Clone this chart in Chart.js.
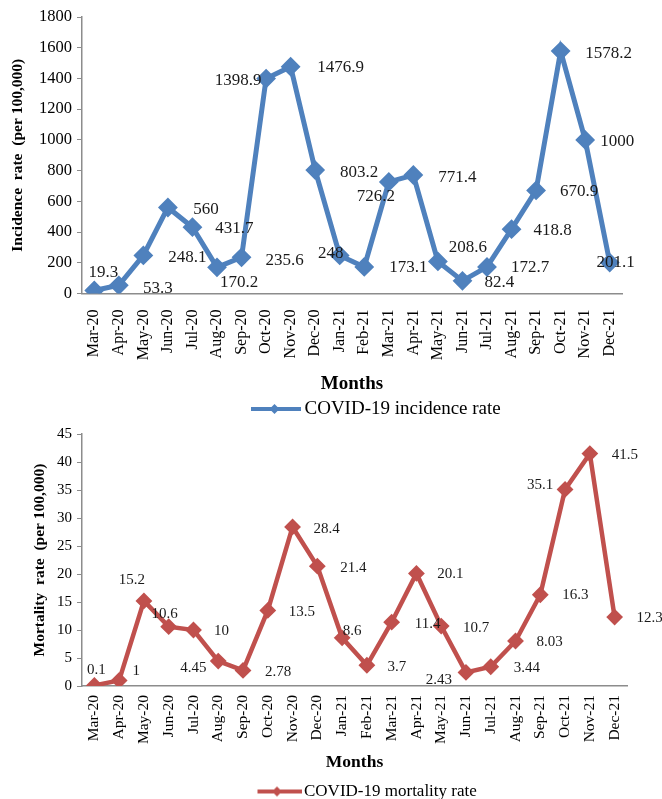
<!DOCTYPE html>
<html>
<head>
<meta charset="utf-8">
<script src="https://cdn.jsdelivr.net/npm/chart.js@4.4.1/dist/chart.umd.min.js"></script>
<style>
  body { margin: 0; background: #fff; }
  canvas { display: block; }
</style>
</head>
<body>
<canvas id="incChart" width="662" height="420"></canvas>
<canvas id="mortChart" width="662" height="379"></canvas>
<script>
// data
const months = ["Mar-20","Apr-20","May-20","Jun-20","Jul-20","Aug-20","Sep-20","Oct-20","Nov-20","Dec-20",
  "Jan-21","Feb-21","Mar-21","Apr-21","May-21","Jun-21","Jul-21","Aug-21","Sep-21","Oct-21","Nov-21","Dec-21"];
const incidence = [19.3, 53.3, 248.1, 560, 431.7, 170.2, 235.6, 1398.9, 1476.9, 803.2,
  248, 173.1, 726.2, 771.4, 208.6, 82.4, 172.7, 418.8, 670.9, 1578.2, 1000, 201.1];
const mortality = [0.1, 1, 15.2, 10.6, 10, 4.45, 2.78, 13.5, 28.4, 21.4,
  8.6, 3.7, 11.4, 20.1, 10.7, 2.43, 3.44, 8.03, 16.3, 35.1, 41.5, 12.3];
const incTicks = { max: 1800, step: 200 };
const mortTicks = { max: 45, step: 5 };

// where each value label sits relative to its point (px)
const incLabelOffsets = [[9,-18],[39,3],[44,2],[38,2],[42,1],[22,15],[43,3],[-28,2],[50,1],[44,2],
  [-9,-2],[44,1],[-13,15],[44,3],[30,-14],[37,2],[43,1],[41,1],[43,1],[48,2],[32,2],[6,0]];
const mortLabelOffsets = [[2,-15],[17,-9],[-12,-21],[-4,-13],[28,1],[-25,7],[35,2],[34,2],[34,2],[36,2],
  [10,-7],[30,2],[36,2],[34,1],[35,2],[-27,8],[36,1],[34,1],[35,0],[-25,-4],[35,1],[35,1]];

const SERIF = "'Liberation Serif', 'Times New Roman', serif";
const BLUE = "#4F81BD";
const RED = "#C0504D";
const AXIS = "#8c8c8c";

function legendMarker(color, w) {
  var c = document.createElement("canvas");
  c.width = w; c.height = 14;
  var g = c.getContext("2d");
  g.strokeStyle = color; g.fillStyle = color; g.lineWidth = 4;
  g.beginPath(); g.moveTo(0, 7); g.lineTo(w, 7); g.stroke();
  g.beginPath(); g.moveTo(w/2 - 5, 7); g.lineTo(w/2, 2); g.lineTo(w/2 + 5, 7); g.lineTo(w/2, 12); g.closePath(); g.fill();
  return c;
}

const pointLabels = {
  id: "pointLabels",
  afterDatasetsDraw(chart, args, opts) {
    var ctx = chart.ctx;
    var pts = chart.getDatasetMeta(0).data;
    var vals = chart.data.datasets[0].data;
    ctx.save();
    ctx.font = opts.size + "px " + SERIF;
    ctx.fillStyle = "#1a1a1a";
    ctx.textAlign = "center";
    ctx.textBaseline = "middle";
    pts.forEach(function(p, i) {
      var o = opts.offsets[i];
      ctx.fillText(String(vals[i]), p.x + o[0], p.y + o[1]);
    });
    ctx.restore();
  }
};

// the legend in the figure is not centred, move it
const legendShift = {
  id: "legendShift",
  afterLayout(chart, args, opts) {
    var lg = chart.legend;
    var w = lg.right - lg.left;
    lg.left = opts.x; lg.right = opts.x + w;
  }
};

function makeChart(id, cfg) {
  return new Chart(document.getElementById(id).getContext("2d"), {
    type: "line",
    data: {
      labels: months,
      datasets: [{
        label: cfg.label,
        data: cfg.data,
        borderColor: cfg.color,
        backgroundColor: cfg.color,
        borderWidth: cfg.lineWidth,
        pointStyle: "rectRot",
        pointRadius: cfg.pointRadius,
        pointBorderWidth: 2,
        pointBackgroundColor: cfg.color,
        pointBorderColor: cfg.color,
        tension: 0,
        fill: false
      }]
    },
    options: {
      responsive: false,
      animation: false,
      devicePixelRatio: 1,
      layout: { padding: { left: 0, top: cfg.padTop, right: cfg.padRight, bottom: cfg.padBottom } },
      scales: {
        x: {
          offset: true,
          grid: { display: true, drawOnChartArea: false, drawTicks: false, color: AXIS },
          border: { color: AXIS, width: 1.5 },
          ticks: { autoSkip: false, maxRotation: 90, minRotation: 90, padding: cfg.xPad, color: "#000",
                   font: { family: SERIF, size: cfg.xTickSize } },
          title: { display: true, text: "Months", color: "#000", padding: { top: 0, bottom: cfg.xTitlePad },
                   font: { family: SERIF, size: cfg.xTitleSize, weight: "bold", lineHeight: 1.2 } },
          afterFit: function(s) { s.height = cfg.xHeight; }
        },
        y: {
          min: 0, max: cfg.ticks.max,
          grid: { drawOnChartArea: false, drawTicks: true, tickLength: 5, color: AXIS },
          border: { color: AXIS, width: 1.5 },
          ticks: { stepSize: cfg.ticks.step, padding: 5, color: "#000",
                   font: { family: SERIF, size: cfg.yTickSize },
                   callback: function(v) { return String(v); } },
          title: { display: true, text: cfg.yTitle, color: "#000", padding: { top: cfg.yTitlePad, bottom: 0 },
                   font: { family: SERIF, size: cfg.yTitleSize, weight: "bold", lineHeight: 1.2 } },
          afterFit: function(s) { s.width = 82; }
        }
      },
      plugins: {
        legend: {
          position: "bottom",
          align: "start",
          labels: {
            usePointStyle: true,
            pointStyle: legendMarker(cfg.color, cfg.markerW),
            pointStyleWidth: cfg.boxW,
            padding: cfg.legendPad,
            color: "#000",
            font: { family: SERIF, size: cfg.legendSize }
          }
        },
        tooltip: { enabled: false },
        pointLabels: { offsets: cfg.offsets, size: cfg.labelSize },
        legendShift: { x: cfg.legendX }
      }
    },
    plugins: [pointLabels, legendShift]
  });
}

makeChart("incChart", {
  label: "COVID-19 incidence rate", data: incidence, color: BLUE, ticks: incTicks,
  yTitle: "Incidence  rate  (per 100,000)", offsets: incLabelOffsets,
  lineWidth: 5, pointRadius: 8.5, padTop: 17, padRight: 40, padBottom: -8.5,
  xPad: 16, xTickSize: 16, xTitleSize: 19, xTitlePad: 1, xHeight: 103,
  yTickSize: 16.5, yTitleSize: 15.5, yTitlePad: 9,
  markerW: 53, boxW: 41, legendPad: 3, legendSize: 19, legendX: 251, labelSize: 17
});

makeChart("mortChart", {
  label: "COVID-19 mortality rate", data: mortality, color: RED, ticks: mortTicks,
  yTitle: "Mortality  rate  (per 100,000)", offsets: mortLabelOffsets,
  lineWidth: 4.5, pointRadius: 7, padTop: 13, padRight: 35, padBottom: -11,
  xPad: 9, xTickSize: 15.5, xTitleSize: 17.5, xTitlePad: 9.5, xHeight: 96,
  yTickSize: 15, yTitleSize: 15.5, yTitlePad: 31,
  markerW: 50, boxW: 37, legendPad: 1, legendSize: 17, legendX: 257.5, labelSize: 15
});
</script>
</body>
</html>
